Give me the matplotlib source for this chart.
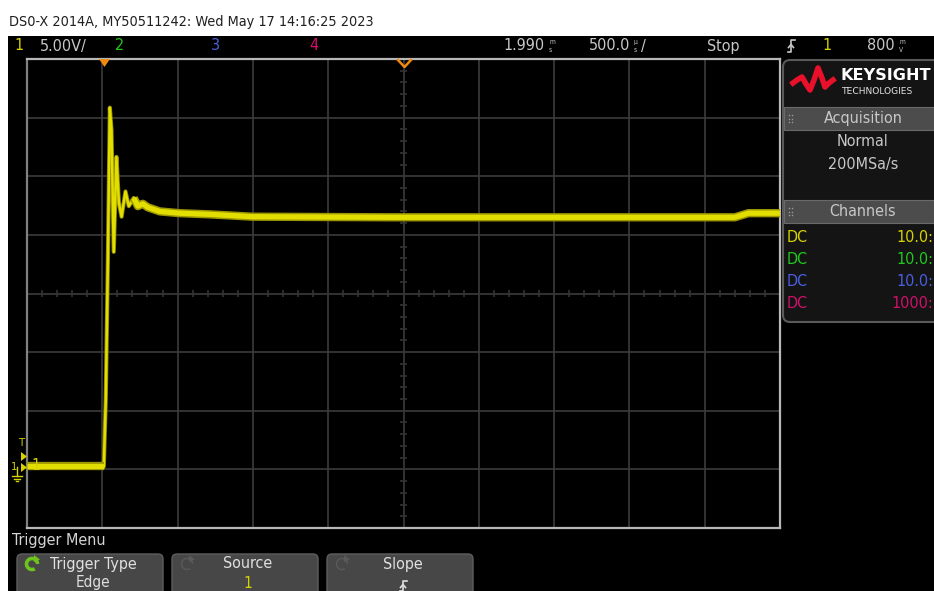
import numpy as np
import matplotlib
matplotlib.use('Agg')
import matplotlib.pyplot as plt
from matplotlib import font_manager
from matplotlib.patches import Rectangle, FancyBboxPatch, Polygon, Arc

# channel 1 trace: time from trigger (us), volts
t_us = [-510, 0, 13, 27, 40, 51, 66, 84, 100, 118, 144, 166, 199, 226,
        259, 292, 372, 505, 704, 989, 1900, 3300, 4190, 4280, 4490]
ch1_v = [0.0, 0.0, 5.7, 17.6, 30.6, 28.7, 18.3, 26.4, 22.5, 21.3, 23.45,
         22.2, 22.9, 22.2, 22.4, 22.1, 21.75, 21.6, 21.5, 21.3, 21.25,
         21.25, 21.25, 21.6, 21.6]

# scope settings shown on screen
volts_per_div = 5.0
time_per_div = 500.0      # us
delay_us = 1990.0
ch1_centre_v = 14.75      # volts at screen centre

# channel table (right panel)
ch_coupling = ['DC', 'DC', 'DC', 'DC']
ch_probe = ['10.0:', '10.0:', '10.0:', '1000:']
ch_colors = ['#d6d200', '#22c81e', '#4a5ee0', '#d0106a']

YEL = '#e2de00'
GREY = '#c8c8c8'

names = {f.name for f in font_manager.fontManager.ttflist}
if 'Liberation Sans Narrow' in names:
    UI = dict(family='Liberation Sans Narrow')
else:
    UI = dict(family='DejaVu Sans', stretch='condensed')

W, H = 934, 591
fig = plt.figure(figsize=(W / 100, H / 100), dpi=100, facecolor='white')

# background layer (pixel coords)
bg = fig.add_axes([0, 0, 1, 1], zorder=0)
bg.set_xlim(0, W)
bg.set_ylim(H, 0)
bg.axis('off')
bg.add_patch(Rectangle((8, 36), W - 8, H - 36, facecolor='black', lw=0))

# scope graticule
x0, x1, y0, y1 = 27, 780, 59, 528
ax = fig.add_axes([x0 / W, (H - y1) / H, (x1 - x0) / W, (y1 - y0) / H], zorder=1)
ax.set_facecolor('black')
xlim = (delay_us - 5 * time_per_div, delay_us + 5 * time_per_div)
ylim = (ch1_centre_v - 4 * volts_per_div, ch1_centre_v + 4 * volts_per_div)
ax.set_xlim(*xlim)
ax.set_ylim(*ylim)
ax.set_xticks(np.arange(xlim[0], xlim[1] + 1, time_per_div))
ax.set_yticks(np.arange(ylim[0], ylim[1] + 0.01, volts_per_div))
ax.tick_params(length=0, labelbottom=False, labelleft=False)
ax.grid(True, color='#3c3c3c', lw=1.2)
for s in ['top', 'right', 'bottom']:
    ax.spines[s].set_color('#b8b8b8')
    ax.spines[s].set_linewidth(1.6)
ax.spines['left'].set_color('#808080')
ax.spines['left'].set_linewidth(1.6)

# minor ticks on the centre cross
yt = np.arange(ylim[0], ylim[1] + 0.01, volts_per_div / 5)
xt = np.arange(xlim[0], xlim[1] + 1, time_per_div / 5)
ax.hlines(yt, delay_us - 22, delay_us + 22, color='#333333', lw=1.2)
ax.vlines(xt, ch1_centre_v - 0.3, ch1_centre_v + 0.3, color='#333333', lw=1.2)

# trace
t = np.array(t_us)
v = np.array(ch1_v)
ax.plot(t, v, color='#8c8600', lw=3.0, zorder=3)
ax.plot(t, v, color=YEL, lw=1.8, zorder=3)
for m in [t <= 0, t >= 199]:
    ax.plot(t[m], v[m], color='#9c9600', lw=6.0, zorder=3, solid_capstyle='butt')
    ax.plot(t[m], v[m], color=YEL, lw=3.8, zorder=4, solid_capstyle='butt')

# overlay layer for UI chrome (pixel coords)
ui = fig.add_axes([0, 0, 1, 1], zorder=2)
ui.set_xlim(0, W)
ui.set_ylim(H, 0)
ui.axis('off')
ui.patch.set_alpha(0)


def txt(x, y, s, color=GREY, size=11.5, ha='left', va='center', **kw):
    ui.text(x, y, s, color=color, fontsize=size, ha=ha, va=va, **{**UI, **kw})


def unit(x, y, top, bot, color=GREY):
    # small stacked unit glyph as drawn by the scope
    txt(x, y - 4.3, top, color=color, size=4.8)
    txt(x, y + 4.3, bot, color=color, size=4.8)


def edge(x, y, h=6, color=GREY):
    ui.plot([x - 3.5, x, x, x + 3.5], [y + h, y + h, y - h, y - h], color=color, lw=1.2)
    ui.plot([x - 2.5, x, x + 2.5], [y + 1.5, y - 1.5, y + 1.5], color=color, lw=1.2)


# title
ui.text(9, 22, 'DS0-X 2014A, MY50511242: Wed May 17 14:16:25 2023',
        color='#202020', fontsize=10.4, va='center', ha='left', **UI)

# top status bar
ty = 46
txt(14, ty, '1', color=ch_colors[0])
txt(40, ty, '5.00V/')
txt(115, ty, '2', color=ch_colors[1])
txt(211, ty, '3', color=ch_colors[2])
txt(309, ty, '4', color=ch_colors[3])
txt(545, ty, '1.990', ha='right')
unit(549, ty, 'm', 's')
txt(630, ty, '500.0', ha='right')
unit(634, ty, 'µ', 's')
txt(641, ty, '/')
txt(707, ty, 'Stop')
edge(791, ty)
txt(822, ty, '1', color=ch_colors[0])
txt(895, ty, '800', ha='right')
unit(899, ty, 'm', 'V')

# trigger position and delay markers
ui.add_patch(Polygon([[99, 59], [110, 59], [104.5, 67]], closed=True, facecolor='#f08a10', lw=0))
ui.plot([398, 404.5, 411], [60, 67, 60], color='#f08a10', lw=1.8)

# left markers: trigger level and channel 1 ground
txt(22, 443, 'T', color=ch_colors[0], size=8, ha='center')
ui.add_patch(Polygon([[21, 452], [21, 461], [27, 456.5]], closed=True, facecolor=ch_colors[0], lw=0))
ui.add_patch(Polygon([[21, 463], [21, 472], [27, 467.5]], closed=True, facecolor=ch_colors[0], lw=0))
txt(14, 467, '1', color=ch_colors[0], size=8, ha='center')
ui.plot([17, 17], [467, 476], color=ch_colors[0], lw=1)
ui.plot([12, 22], [476, 476], color=ch_colors[0], lw=1)
ui.plot([14, 20], [478.5, 478.5], color=ch_colors[0], lw=1)
ui.plot([16, 18], [481, 481], color=ch_colors[0], lw=1)
txt(36, 466, '1', color=ch_colors[0], size=11, ha='center')

# right panel
ui.add_patch(FancyBboxPatch((783, 60), 170, 262, boxstyle='round,pad=0,rounding_size=7',
                            facecolor='#141414', edgecolor='#5a5a5a', lw=1.5))
logo_x = [793, 797, 802, 806, 810, 814, 818, 822, 825, 829, 833]
logo_y = [83, 80, 77, 84, 90, 80, 68, 78, 87, 83, 80]
ui.plot(logo_x, logo_y, color='#e8102a', lw=4.0, solid_joinstyle='round')
ui.text(840, 76, 'KEYSIGHT', color='white', fontsize=11.6, fontweight='bold',
        va='center', ha='left', family='DejaVu Sans')
ui.text(842, 91, 'TECHNOLOGIES', color='#e0e0e0', fontsize=6.6,
        va='center', ha='left', family='DejaVu Sans')

for yb, label in [(107, 'Acquisition'), (200, 'Channels')]:
    ui.add_patch(Rectangle((784, yb), 150, 23, facecolor='#4c4c4c', edgecolor='#6a6a6a', lw=0.8))
    ui.scatter([789, 789, 789, 792, 792, 792], [yb + 8, yb + 11.5, yb + 15] * 2,
               s=1.2, color='#9a9a9a', lw=0)
    txt(863, yb + 11.5, label, color=GREY, size=11.5, ha='center')

txt(863, 142, 'Normal', size=11.5, ha='center')
txt(863, 165, '200MSa/s', size=11.5, ha='center')

row_y = [237, 259, 282, 304]
for yr, cp, pr, c in zip(row_y, ch_coupling, ch_probe, ch_colors):
    txt(787, yr, cp, color=c, size=11.5)
    txt(933, yr, pr, color=c, size=11.5, ha='right')

# bottom soft-key menu
txt(12, 541, 'Trigger Menu', color='#d4d4d4', size=11.5)
buttons = [(17, 'Trigger Type', 'Edge'), (172, 'Source', '1'), (327, 'Slope', None)]
for i, (bx, top, bot) in enumerate(buttons):
    ui.add_patch(FancyBboxPatch((bx, 554), 146, 50, boxstyle='round,pad=0,rounding_size=5',
                                facecolor='#474747', edgecolor='#5e5e5e', lw=1))
    cx = bx + 76
    txt(cx, 564, top, color='#e0e0e0', size=11.5, ha='center')
    icon = '#6cc41c' if i == 0 else '#5a5a5a'
    ui.add_patch(Arc((bx + 15, 564), 11, 11, theta1=60, theta2=360, color=icon, lw=2.6 if i == 0 else 1))
    ui.add_patch(Polygon([[bx + 17, 555], [bx + 23, 559.5], [bx + 17, 562]], closed=True,
                         facecolor=icon, lw=0))
    if bot == '1':
        txt(cx, 583, bot, color=ch_colors[0], size=11, ha='center')
    elif bot:
        txt(cx, 583, bot, color='#e0e0e0', size=11, ha='center')
    else:
        edge(cx, 586, h=5, color='#e0e0e0')

fig.savefig('out.png', dpi=100, facecolor='white')
